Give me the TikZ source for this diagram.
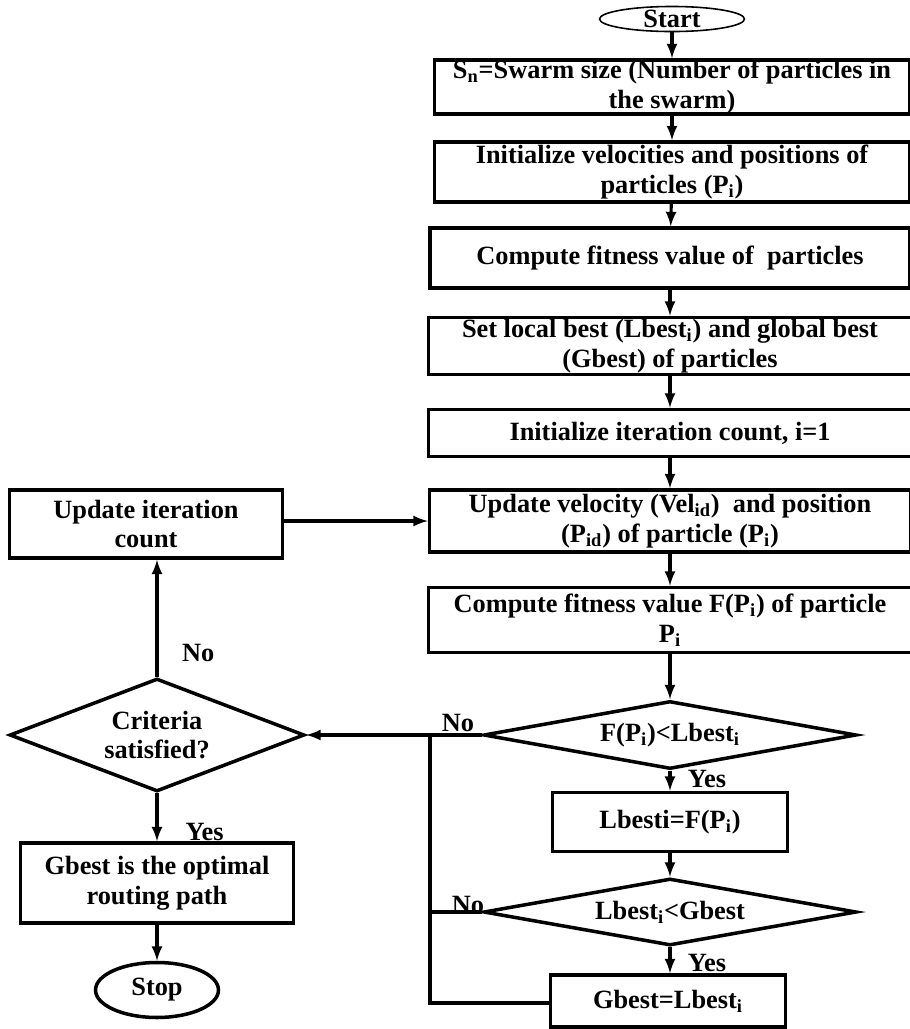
\documentclass[tikz,border=0pt]{standalone}
\usepackage{fontspec}
\setmainfont{Liberation Serif}
\usepackage{tikz}
\usetikzlibrary{shapes.geometric}

\begin{document}
\begin{tikzpicture}[>=latex,x=0.02cm,y=-0.02cm,line width=1.8pt,
    every node/.style={font=\fontsize{15}{17}\selectfont\bfseries},
    box/.style={draw,rectangle,align=center,inner sep=0pt,line width=2pt},
    dec/.style={draw,diamond,align=center,inner sep=0pt,line width=2pt},
    term/.style={draw,ellipse,inner sep=0pt}]
    \useasboundingbox (0,0) rectangle (910,1029);
    % main column
    \node at (672,19)[term,line width=0.9pt,minimum width=2.9cm,minimum height=0.44cm] (start){Start};
    \node at (672,87)[box,minimum width=9.5cm,minimum height=0.98cm] (sn){S\textsubscript{n}=Swarm size (Number of particles in\\the swarm)};
    \node at (672,172)[box,minimum width=9.5cm,minimum height=1.2cm] (init){Initialize velocities and positions of\\particles (P\textsubscript{i})};
    \node at (670,258)[box,minimum width=9.6cm,minimum height=1.2cm] (fit){Compute fitness value of \ particles};
    \node at (670,346)[box,minimum width=9.66cm,minimum height=1.14cm] (best){Set local best (Lbest\textsubscript{i}) and global best\\(Gbest) of particles};
    \node at (670,433)[box,minimum width=9.66cm,minimum height=0.94cm] (iter){Initialize iteration count, i=1};
    \node at (670,521)[box,minimum width=9.62cm,minimum height=1.24cm] (upd){Update velocity (Vel\textsubscript{id}) \ and position\\(P\textsubscript{id}) of particle (P\textsubscript{i})};
    \node at (670,620)[box,minimum width=9.66cm,minimum height=1.3cm] (comp){Compute fitness value F(P\textsubscript{i}) of particle\\P\textsubscript{i}};
    \node at (670,735)[dec,aspect=5.5,minimum width=7.46cm,minimum height=1.36cm] (d1){F(P\textsubscript{i})<Lbest\textsubscript{i}};
    \node at (670,822)[box,minimum width=4.7cm,minimum height=1.18cm] (lb){Lbesti=F(P\textsubscript{i})};
    \node at (670,912)[dec,aspect=5.5,minimum width=7.46cm,minimum height=1.34cm] (d2){Lbest\textsubscript{i}<Gbest};
    \node at (668,1001)[box,minimum width=4.7cm,minimum height=1.04cm] (gb){Gbest=Lbest\textsubscript{i}};
    % left column
    \node at (146,524)[box,minimum width=5.46cm,minimum height=1.36cm] (ui){Update iteration\\count};
    \node at (157,735)[dec,aspect=2.6,minimum width=5.9cm,minimum height=2.26cm] (cr){Criteria\\satisfied?};
    \node at (157,883)[box,minimum width=5.46cm,minimum height=1.6cm] (opt){Gbest is the optimal\\routing path};
    \node at (157,990)[term,line width=2pt,minimum width=2.46cm,minimum height=1.1cm] (stop){Stop};
    \coordinate (j1) at (430,735);
    \coordinate (j2) at (430,1003);
    % arrows
    \draw[->] (start) -- (sn);
    \draw[->] (sn) -- (init);
    \draw[->] (init) -- (fit);
    \draw[->] (fit) -- (best);
    \draw[->] (best) -- (iter);
    \draw[->] (iter) -- (upd);
    \draw[->] (upd) -- (comp);
    \draw[->] (comp) -- (d1);
    \draw[->] (d1) -- (lb) node[right,pos=0.4,xshift=6pt]{Yes};
    \draw[->] (lb) -- (d2);
    \draw[->] (d2) -- (gb.north -| d2.south) node[right,pos=0.6,xshift=6pt]{Yes};
    \draw[->] (d1.west) -- (cr.east);
    \node at (458,723) (no1){No};
    \draw (d2.west) -- (d2.west -| j1);
    \node at (468,905) (no2){No};
    \draw (gb.west |- j2) -- (j2) -- (j1);
    \draw[->] (cr.north) -- (cr.north |- ui.south) node[right,pos=0.2,xshift=10pt]{No};
    \draw[->] (cr.south) -- (opt.north) node[right,pos=0.8,xshift=12pt]{Yes};
    \draw[->] (opt) -- (stop);
    \draw[->] (ui.east |- upd.west) -- (upd.west);
\end{tikzpicture}
\end{document}
